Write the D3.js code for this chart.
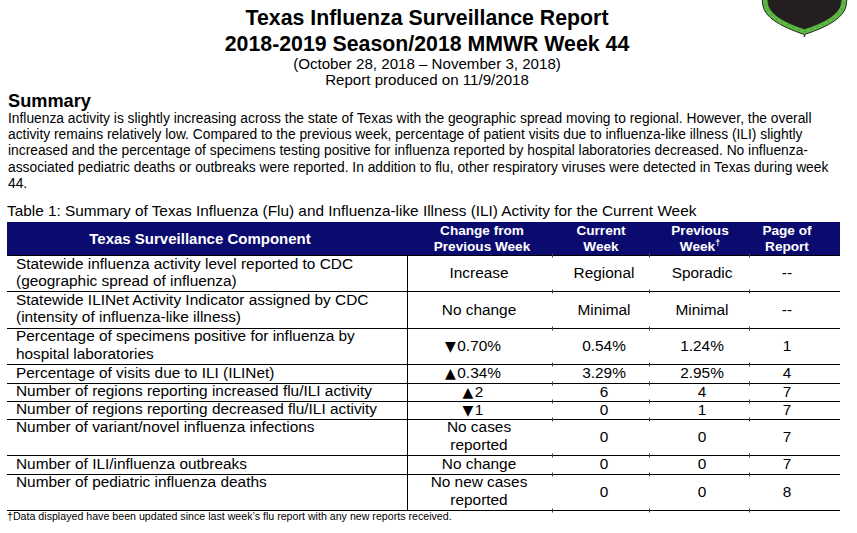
<!DOCTYPE html>
<html>
<head>
<meta charset="utf-8">
<script src="https://cdn.jsdelivr.net/npm/d3@7"></script>
<style>
  html, body { margin: 0; padding: 0; background: #fff; }
  svg { display: block; }
  text { font-family: "Liberation Sans", Arial, sans-serif; fill: #000; }
</style>
</head>
<body>
<div id="chart"></div>
<script>
// ---------------- data ----------------
const titleLines = ["Texas Influenza Surveillance Report", "2018-2019 Season/2018 MMWR Week 44"];
const subtitleLines = ["(October 28, 2018 \u2013 November 3, 2018)", "Report produced on 11/9/2018"];
const summaryHeading = "Summary";
const summaryLines = [
  "Influenza activity is slightly increasing across the state of Texas with the geographic spread moving to regional. However, the overall",
  "activity remains relatively low. Compared to the previous week, percentage of patient visits due to influenza-like illness (ILI) slightly",
  "increased and the percentage of specimens testing positive for influenza reported by hospital laboratories decreased. No influenza-",
  "associated pediatric deaths or outbreaks were reported. In addition to flu, other respiratory viruses were detected in Texas during week",
  "44."
];
const tableCaption = "Table 1: Summary of Texas Influenza (Flu) and Influenza-like Illness (ILI) Activity for the Current Week";
const columnKeys = ["component", "change", "current", "previous", "page"];
const headers = [
  ["Texas Surveillance Component"],
  ["Change from", "Previous Week"],
  ["Current", "Week"],
  ["Previous", "Week\u2020"],
  ["Page of", "Report"]
];
const components = [
  "Statewide influenza activity level reported to CDC\n(geographic spread of influenza)",
  "Statewide ILINet Activity Indicator assigned by CDC\n(intensity of influenza-like illness)",
  "Percentage of specimens positive for influenza by\nhospital laboratories",
  "Percentage of visits due to ILI (ILINet)",
  "Number of regions reporting increased flu/ILI activity",
  "Number of regions reporting decreased flu/ILI activity",
  "Number of variant/novel influenza infections",
  "Number of ILI/influenza outbreaks",
  "Number of pediatric influenza deaths"
];
const changes = ["Increase", "No change", "\u25BC0.70%", "\u25B20.34%", "\u25B22", "\u25BC1", "No cases\nreported", "No change", "No new cases\nreported"];
const currentWeek = ["Regional", "Minimal", "0.54%", "3.29%", "6", "0", "0", "0", "0"];
const previousWeek = ["Sporadic", "Minimal", "1.24%", "2.95%", "4", "1", "0", "0", "0"];
const pageOfReport = ["--", "--", "1", "4", "7", "7", "7", "7", "8"];
const footnote = "\u2020Data displayed have been updated since last week\u2019s flu report with any new reports received.";

// ---------------- layout ----------------
const W = 857, H = 533;
const svg = d3.select("#chart").append("svg").attr("width", W).attr("height", H);

// logo (decorative shield, top right)
const logo = svg.append("g");
logo.append("path")
  .attr("d", "M762,-2 L763,6 Q766,22 804.5,34.5 Q843,22 846,6 L847,-2 Z")
  .attr("fill", "#5fb846").attr("stroke", "#1e2a18").attr("stroke-width", 1);
logo.append("path")
  .attr("d", "M765,-2 L766,6 Q769.5,20 804.5,31.5 Q839.5,20 843,6 L844,-2 Z")
  .attr("fill", "none").attr("stroke", "#3d8a2a").attr("stroke-width", 1.2).attr("stroke-dasharray", "1.2,5");
logo.append("path")
  .attr("d", "M767.5,-2 L768.5,5 Q772,18.5 804.5,29 Q837,18.5 840.5,5 L841.5,-2 Z")
  .attr("fill", "#231f20").attr("stroke", "#1e2a18").attr("stroke-width", 0.8);
logo.append("line").attr("x1", 804.5).attr("x2", 804.5).attr("y1", 34.5).attr("y2", 37)
  .attr("stroke", "#333").attr("stroke-width", 1.5);

// titles
svg.selectAll("text.title").data(titleLines).join("text")
  .attr("class", "title")
  .attr("x", 427).attr("y", (d, i) => 25 + i * 26)
  .attr("text-anchor", "middle")
  .style("font-size", "21.3px").style("font-weight", "bold")
  .text(d => d);

svg.selectAll("text.subtitle").data(subtitleLines).join("text")
  .attr("class", "subtitle")
  .attr("x", 427).attr("y", (d, i) => 69 + i * 16)
  .attr("text-anchor", "middle")
  .style("font-size", "15.1px")
  .text(d => d);

svg.append("text").attr("x", 8).attr("y", 107)
  .style("font-size", "18.2px").style("font-weight", "bold")
  .text(summaryHeading);

svg.selectAll("text.summary").data(summaryLines).join("text")
  .attr("class", "summary")
  .attr("x", 8).attr("y", (d, i) => 123 + i * 16.2)
  .style("font-size", "13.8px")
  .text(d => d);

svg.append("text").attr("x", 7).attr("y", 215.5)
  .style("font-size", "15.35px")
  .text(tableCaption);

// ---------------- table ----------------
const tableLeft = 7, tableRight = 840;
const headTop = 222, headBottom = 255, bodyBottom = 510;
const dividerX = 407;
const tickXs = [552, 649, 749];
const bodyFont = 15.4;

const rows = components.map((c, i) => ({
  component: c, change: changes[i], current: currentWeek[i], previous: previousWeek[i], page: pageOfReport[i]
}));
rows.forEach(r => { r.units = d3.max(columnKeys, k => r[k].split("\n").length); });
let acc = 0;
rows.forEach(r => { r.start = acc; acc += r.units; r.end = acc; });
const y = d3.scaleLinear().domain([0, acc]).range([headBottom, bodyBottom]);

const xCenter = d3.scaleOrdinal().domain(columnKeys).range([207, 479, 604, 702, 787]);
const xHeader = d3.scaleOrdinal().domain(columnKeys).range([200, 482, 601, 700, 787]);

// header
svg.append("rect")
  .attr("x", tableLeft).attr("y", headTop)
  .attr("width", tableRight - tableLeft).attr("height", headBottom - headTop)
  .attr("fill", "#0b0b6f");

const headG = svg.selectAll("g.head").data(headers).join("g").attr("class", "head");
headG.each(function(lines, ci) {
  const g = d3.select(this);
  const key = columnKeys[ci];
  const fs = ci === 0 ? 15 : 13.6;
  const baseY = lines.length === 1 ? 244 : 235;
  lines.forEach((line, li) => {
    const t = g.append("text")
      .attr("x", xHeader(key)).attr("y", baseY + li * 16)
      .attr("text-anchor", "middle")
      .style("font-size", fs + "px").style("font-weight", "bold")
      .style("fill", "#fff");
    if (line.endsWith("\u2020")) {
      t.append("tspan").text(line.slice(0, -1));
      t.append("tspan").attr("dy", -5).style("font-size", "9px").text("\u2020");
    } else {
      t.text(line);
    }
  });
});

// grid lines
const boundaries = [0].concat(rows.map(r => r.end));
svg.selectAll("line.hline").data(boundaries).join("line")
  .attr("class", "hline")
  .attr("x1", tableLeft).attr("x2", tableRight)
  .attr("y1", d => Math.round(y(d)) + 0.5).attr("y2", d => Math.round(y(d)) + 0.5)
  .attr("stroke", "#000").attr("stroke-width", 1);

svg.append("line")
  .attr("x1", dividerX + 0.5).attr("x2", dividerX + 0.5)
  .attr("y1", headBottom).attr("y2", bodyBottom + 1)
  .attr("stroke", "#000").attr("stroke-width", 1);

const tickData = [];
boundaries.forEach(b => tickXs.forEach(x => tickData.push({ x, yy: Math.round(y(b)) })));
svg.selectAll("line.tick").data(tickData).join("line")
  .attr("class", "tick")
  .attr("x1", d => d.x + 0.5).attr("x2", d => d.x + 0.5)
  .attr("y1", d => d.yy - 1.5).attr("y2", d => d.yy + 2.5)
  .attr("stroke", "#444").attr("stroke-width", 1);

// body cells
const triangles = /^([\u25B2\u25BC])(.*)$/;
const rowG = svg.selectAll("g.row").data(rows).join("g").attr("class", "row");
rowG.each(function(r) {
  const g = d3.select(this);
  const top = y(r.start), bottom = y(r.end);
  const mid = (top + bottom) / 2;
  columnKeys.forEach(key => {
    const lines = r[key].split("\n");
    lines.forEach((line, li) => {
      let yy;
      if (key === "component" || lines.length > 1) {
        yy = top + 13.5 + li * 17.5;
      } else {
        yy = mid + 5;
      }
      const m = line.match(triangles);
      const t = g.append("text")
        .attr("x", key === "component" ? 16 : xCenter(key) - (m ? 6 : 0))
        .attr("y", yy)
        .attr("text-anchor", key === "component" ? "start" : "middle")
        .style("font-size", bodyFont + "px");
      if (m) {
        t.append("tspan").style("font-family", "'DejaVu Sans', sans-serif")
          .style("font-size", "14px").text(m[1]);
        t.append("tspan").attr("dx", 1.5).text(m[2]);
      } else {
        t.text(line);
      }
    });
  });
});

svg.append("text").attr("x", 7).attr("y", 520)
  .style("font-size", "10.65px")
  .text(footnote);
</script>
</body>
</html>
